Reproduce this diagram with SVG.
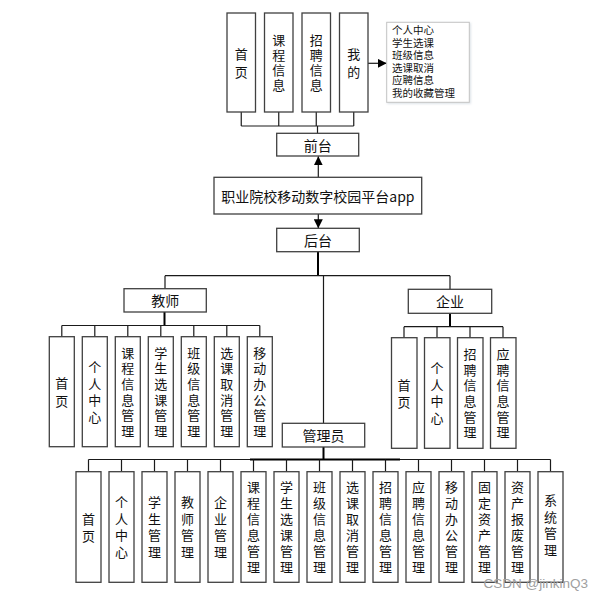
<svg xmlns="http://www.w3.org/2000/svg" width="597" height="599" viewBox="0 0 597 599">
<style>
.bx{fill:#fff;stroke:#404040;stroke-width:1.3}
.pop{fill:#fff;stroke:#c4c4c4;stroke-width:1}
.ln{fill:none;stroke:#1a1a1a;stroke-width:1.2}
.tk{fill:none;stroke:#000;stroke-width:2}
text{font-family:"Noto Sans CJK SC","Microsoft YaHei",sans-serif;fill:#111}
.v{font-family:"Liberation Sans","Noto Sans CJK SC",sans-serif;font-size:13px;text-anchor:middle;dominant-baseline:central}
.h{font-size:14px;text-anchor:middle;dominant-baseline:central}
.s{font-family:"Liberation Sans","Noto Sans CJK SC",sans-serif;font-size:10.5px}
.wm{font-family:"Liberation Sans",Arial,sans-serif;font-size:13.5px;fill:#a0a0a0}
</style>
<defs>
<marker id="ar" viewBox="0 0 10 10" refX="10" refY="5" markerWidth="9" markerHeight="9" markerUnits="userSpaceOnUse" orient="auto">
<path d="M0,0 L10,5 L0,10 z" fill="#000"/>
</marker>
<filter id="sh" x="-10%" y="-10%" width="130%" height="130%">
<feDropShadow dx="1" dy="1" stdDeviation="0.8" flood-color="#9ab" flood-opacity="0.35"/>
</filter>
</defs>

<g id="connectors">
<path class="ln" d="M241.25,112V126M278.75,112V126M316.25,112V126M353.75,112V126M241.25,126H353.75"/>
<path class="ln" d="M317.5,126V133.3"/>
<path class="ln" d="M368,63.3H386.7" marker-end="url(#ar)"/>
<path class="ln" d="M318.3,177.3V156.3" marker-end="url(#ar)"/>
<path class="ln" d="M318.3,214V228.3" marker-end="url(#ar)"/>
<path class="tk" d="M318,251.7V275.7"/>
<path class="ln" d="M165,275.7H450M165,275.7V288.7M450,275.7V289.3M323.5,275.7V423.3"/>
<path class="tk" d="M164.5,312V325.5"/>
<path class="ln" d="M61.8,325.5H259.8M61.8,325.5V336.7M94.8,325.5V336.7M127.8,325.5V336.7M160.8,325.5V336.7M193.8,325.5V336.7M226.8,325.5V336.7M259.8,325.5V336.7"/>
<path class="tk" d="M450,313.3V326.7"/>
<path class="ln" d="M404,326.7H503M404,326.7V337.7M437,326.7V337.7M470,326.7V337.7M503,326.7V337.7"/>
<path class="tk" d="M323.5,447V459.5"/>
<path class="ln" d="M88.5,459.5H550.5"/>
<path class="tk" d="M250,459.5H400"/>
<path class="ln" d="M88.5,459.5V471.7M121.5,459.5V471.7M154.5,459.5V471.7M187.5,459.5V471.7M220.5,459.5V471.7M253.5,459.5V471.7M286.5,459.5V471.7M319.5,459.5V471.7M352.5,459.5V471.7M385.5,459.5V471.7M418.5,459.5V471.7M451.5,459.5V471.7M484.5,459.5V471.7M517.5,459.5V471.7M550.5,459.5V471.7"/>
</g>

<g id="n-shouye-top"><rect class="bx" x="227" y="13" width="28.5" height="99"/><text class="v"><tspan x="241.25" y="53.5">首</tspan><tspan x="241.25" y="71.5">页</tspan></text></g>
<g id="n-kecheng-top"><rect class="bx" x="264.5" y="13" width="28.5" height="99"/><text class="v"><tspan x="278.75" y="40">课</tspan><tspan x="278.75" y="55">程</tspan><tspan x="278.75" y="70">信</tspan><tspan x="278.75" y="85">息</tspan></text></g>
<g id="n-zhaopin-top"><rect class="bx" x="302" y="13" width="28.5" height="99"/><text class="v"><tspan x="316.25" y="40">招</tspan><tspan x="316.25" y="55">聘</tspan><tspan x="316.25" y="70">信</tspan><tspan x="316.25" y="85">息</tspan></text></g>
<g id="n-wode"><rect class="bx" x="339.5" y="13" width="28.5" height="99"/><text class="v"><tspan x="353.75" y="53.5">我</tspan><tspan x="353.75" y="71.5">的</tspan></text></g>
<g id="n-wode-list"><rect class="pop" x="386.7" y="22.3" width="82.6" height="80" filter="url(#sh)"/>
<text class="s"><tspan x="392" y="34">个人中心</tspan><tspan x="392" y="46.6">学生选课</tspan><tspan x="392" y="59.2">班级信息</tspan><tspan x="392" y="71.8">选课取消</tspan><tspan x="392" y="84.4">应聘信息</tspan><tspan x="392" y="97">我的收藏管理</tspan></text></g>

<g id="n-qiantai"><rect class="bx" x="276.7" y="133.3" width="82" height="22.7"/><text class="h" x="317.7" y="144.6">前台</text></g>
<g id="n-app"><rect class="bx" x="214" y="177.3" width="207.7" height="36.7"/><text class="h" x="317.9" y="195.7">职业院校移动数字校园平台app</text></g>
<g id="n-houtai"><rect class="bx" x="276.7" y="228.3" width="82.6" height="23.4"/><text class="h" x="318" y="240">后台</text></g>
<g id="n-jiaoshi"><rect class="bx" x="124" y="288.7" width="82.3" height="23.3"/><text class="h" x="165.2" y="300.3">教师</text></g>
<g id="n-qiye"><rect class="bx" x="408.3" y="289.3" width="83.4" height="24"/><text class="h" x="450" y="301.3">企业</text></g>
<g id="n-guanliyuan"><rect class="bx" x="282.3" y="423.3" width="82.4" height="23.7"/><text class="h" x="323.5" y="435.2">管理员</text></g>

<g id="t1"><rect class="bx" x="49.3" y="336.7" width="25" height="110"/><text class="v"><tspan x="61.8" y="383">首</tspan><tspan x="61.8" y="400.5">页</tspan></text></g>
<g id="t2"><rect class="bx" x="82.3" y="336.7" width="25" height="110"/><text class="v"><tspan x="94.8" y="367">个</tspan><tspan x="94.8" y="383.5">人</tspan><tspan x="94.8" y="400">中</tspan><tspan x="94.8" y="416.5">心</tspan></text></g>
<g id="t3"><rect class="bx" x="115.3" y="336.7" width="25" height="110"/><text class="v"><tspan x="127.8" y="352.5">课</tspan><tspan x="127.8" y="368.2">程</tspan><tspan x="127.8" y="383.9">信</tspan><tspan x="127.8" y="399.6">息</tspan><tspan x="127.8" y="415.3">管</tspan><tspan x="127.8" y="431">理</tspan></text></g>
<g id="t4"><rect class="bx" x="148.3" y="336.7" width="25" height="110"/><text class="v"><tspan x="160.8" y="352.5">学</tspan><tspan x="160.8" y="368.2">生</tspan><tspan x="160.8" y="383.9">选</tspan><tspan x="160.8" y="399.6">课</tspan><tspan x="160.8" y="415.3">管</tspan><tspan x="160.8" y="431">理</tspan></text></g>
<g id="t5"><rect class="bx" x="181.3" y="336.7" width="25" height="110"/><text class="v"><tspan x="193.8" y="352.5">班</tspan><tspan x="193.8" y="368.2">级</tspan><tspan x="193.8" y="383.9">信</tspan><tspan x="193.8" y="399.6">息</tspan><tspan x="193.8" y="415.3">管</tspan><tspan x="193.8" y="431">理</tspan></text></g>
<g id="t6"><rect class="bx" x="214.3" y="336.7" width="25" height="110"/><text class="v"><tspan x="226.8" y="352.5">选</tspan><tspan x="226.8" y="368.2">课</tspan><tspan x="226.8" y="383.9">取</tspan><tspan x="226.8" y="399.6">消</tspan><tspan x="226.8" y="415.3">管</tspan><tspan x="226.8" y="431">理</tspan></text></g>
<g id="t7"><rect class="bx" x="247.3" y="336.7" width="25" height="110"/><text class="v"><tspan x="259.8" y="352.5">移</tspan><tspan x="259.8" y="368.2">动</tspan><tspan x="259.8" y="383.9">办</tspan><tspan x="259.8" y="399.6">公</tspan><tspan x="259.8" y="415.3">管</tspan><tspan x="259.8" y="431">理</tspan></text></g>

<g id="e1"><rect class="bx" x="391.5" y="337.7" width="25.5" height="110.6"/><text class="v"><tspan x="404" y="384.5">首</tspan><tspan x="404" y="402">页</tspan></text></g>
<g id="e2"><rect class="bx" x="424.5" y="337.7" width="25.5" height="110.6"/><text class="v"><tspan x="437" y="368.2">个</tspan><tspan x="437" y="384.7">人</tspan><tspan x="437" y="401.2">中</tspan><tspan x="437" y="417.7">心</tspan></text></g>
<g id="e3"><rect class="bx" x="457.5" y="337.7" width="25.5" height="110.6"/><text class="v"><tspan x="470" y="353.8">招</tspan><tspan x="470" y="369.5">聘</tspan><tspan x="470" y="385.2">信</tspan><tspan x="470" y="400.9">息</tspan><tspan x="470" y="416.6">管</tspan><tspan x="470" y="432.3">理</tspan></text></g>
<g id="e4"><rect class="bx" x="490.5" y="337.7" width="25.5" height="110.6"/><text class="v"><tspan x="503" y="353.8">应</tspan><tspan x="503" y="369.5">聘</tspan><tspan x="503" y="385.2">信</tspan><tspan x="503" y="400.9">息</tspan><tspan x="503" y="416.6">管</tspan><tspan x="503" y="432.3">理</tspan></text></g>

<g id="a1"><rect class="bx" x="76" y="471.7" width="25" height="110.6"/><text class="v"><tspan x="88.5" y="518.5">首</tspan><tspan x="88.5" y="535.5">页</tspan></text></g>
<g id="a2"><rect class="bx" x="109" y="471.7" width="25" height="110.6"/><text class="v"><tspan x="121.5" y="502.2">个</tspan><tspan x="121.5" y="518.7">人</tspan><tspan x="121.5" y="535.2">中</tspan><tspan x="121.5" y="551.7">心</tspan></text></g>
<g id="a3"><rect class="bx" x="142" y="471.7" width="25" height="110.6"/><text class="v"><tspan x="154.5" y="502.2">学</tspan><tspan x="154.5" y="518.7">生</tspan><tspan x="154.5" y="535.2">管</tspan><tspan x="154.5" y="551.7">理</tspan></text></g>
<g id="a4"><rect class="bx" x="175" y="471.7" width="25" height="110.6"/><text class="v"><tspan x="187.5" y="502.2">教</tspan><tspan x="187.5" y="518.7">师</tspan><tspan x="187.5" y="535.2">管</tspan><tspan x="187.5" y="551.7">理</tspan></text></g>
<g id="a5"><rect class="bx" x="208" y="471.7" width="25" height="110.6"/><text class="v"><tspan x="220.5" y="502.2">企</tspan><tspan x="220.5" y="518.7">业</tspan><tspan x="220.5" y="535.2">管</tspan><tspan x="220.5" y="551.7">理</tspan></text></g>
<g id="a6"><rect class="bx" x="241" y="471.7" width="25" height="110.6"/><text class="v"><tspan x="253.5" y="487">课</tspan><tspan x="253.5" y="503">程</tspan><tspan x="253.5" y="519">信</tspan><tspan x="253.5" y="535">息</tspan><tspan x="253.5" y="551">管</tspan><tspan x="253.5" y="567">理</tspan></text></g>
<g id="a7"><rect class="bx" x="274" y="471.7" width="25" height="110.6"/><text class="v"><tspan x="286.5" y="487">学</tspan><tspan x="286.5" y="503">生</tspan><tspan x="286.5" y="519">选</tspan><tspan x="286.5" y="535">课</tspan><tspan x="286.5" y="551">管</tspan><tspan x="286.5" y="567">理</tspan></text></g>
<g id="a8"><rect class="bx" x="307" y="471.7" width="25" height="110.6"/><text class="v"><tspan x="319.5" y="487">班</tspan><tspan x="319.5" y="503">级</tspan><tspan x="319.5" y="519">信</tspan><tspan x="319.5" y="535">息</tspan><tspan x="319.5" y="551">管</tspan><tspan x="319.5" y="567">理</tspan></text></g>
<g id="a9"><rect class="bx" x="340" y="471.7" width="25" height="110.6"/><text class="v"><tspan x="352.5" y="487">选</tspan><tspan x="352.5" y="503">课</tspan><tspan x="352.5" y="519">取</tspan><tspan x="352.5" y="535">消</tspan><tspan x="352.5" y="551">管</tspan><tspan x="352.5" y="567">理</tspan></text></g>
<g id="a10"><rect class="bx" x="373" y="471.7" width="25" height="110.6"/><text class="v"><tspan x="385.5" y="487">招</tspan><tspan x="385.5" y="503">聘</tspan><tspan x="385.5" y="519">信</tspan><tspan x="385.5" y="535">息</tspan><tspan x="385.5" y="551">管</tspan><tspan x="385.5" y="567">理</tspan></text></g>
<g id="a11"><rect class="bx" x="406" y="471.7" width="25" height="110.6"/><text class="v"><tspan x="418.5" y="487">应</tspan><tspan x="418.5" y="503">聘</tspan><tspan x="418.5" y="519">信</tspan><tspan x="418.5" y="535">息</tspan><tspan x="418.5" y="551">管</tspan><tspan x="418.5" y="567">理</tspan></text></g>
<g id="a12"><rect class="bx" x="439" y="471.7" width="25" height="110.6"/><text class="v"><tspan x="451.5" y="487">移</tspan><tspan x="451.5" y="503">动</tspan><tspan x="451.5" y="519">办</tspan><tspan x="451.5" y="535">公</tspan><tspan x="451.5" y="551">管</tspan><tspan x="451.5" y="567">理</tspan></text></g>
<g id="a13"><rect class="bx" x="472" y="471.7" width="25" height="110.6"/><text class="v"><tspan x="484.5" y="487">固</tspan><tspan x="484.5" y="503">定</tspan><tspan x="484.5" y="519">资</tspan><tspan x="484.5" y="535">产</tspan><tspan x="484.5" y="551">管</tspan><tspan x="484.5" y="567">理</tspan></text></g>
<g id="a14"><rect class="bx" x="505" y="471.7" width="25" height="110.6"/><text class="v"><tspan x="517.5" y="487">资</tspan><tspan x="517.5" y="503">产</tspan><tspan x="517.5" y="519">报</tspan><tspan x="517.5" y="535">废</tspan><tspan x="517.5" y="551">管</tspan><tspan x="517.5" y="567">理</tspan></text></g>
<g id="a15"><rect class="bx" x="538" y="471.7" width="25" height="110.6"/><text class="v"><tspan x="550.5" y="500">系</tspan><tspan x="550.5" y="516.7">统</tspan><tspan x="550.5" y="533.4">管</tspan><tspan x="550.5" y="550">理</tspan></text></g>

<text class="wm" x="483.5" y="587.5">CSDN @jinkinQ3</text>
</svg>
